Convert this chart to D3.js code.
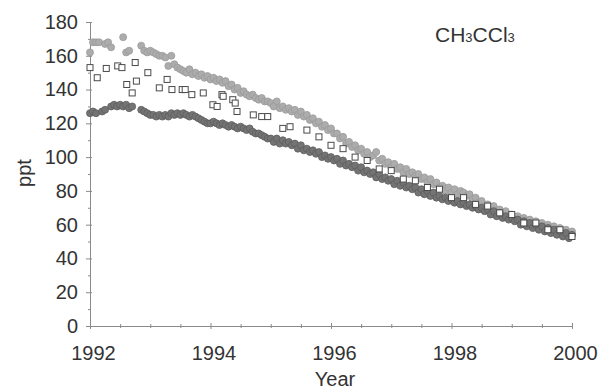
<!DOCTYPE html>
<html>
<head>
<meta charset="utf-8">
<script src="https://cdn.jsdelivr.net/npm/d3@7"></script>
<style>
  body { margin: 0; background: #fff; }
  svg { display: block; font-family: "Liberation Sans", Arial, sans-serif; }
</style>
</head>
<body>
<svg width="610" height="391"></svg>
<script>
// sampling dates shared by the two filled-circle series
var sampleYears = [
  1992.00,1992.05,1992.10,1992.15,1992.20,1992.25,1992.30,1992.35,1992.40,1992.45,1992.50,1992.55,1992.60,1992.65,1992.70,1992.75,1992.80,1992.85,1992.90,1992.95,
  1993.00,1993.05,1993.10,1993.15,1993.20,1993.25,1993.30,1993.35,1993.40,1993.45,1993.50,1993.55,1993.60,1993.65,1993.70,1993.75,1993.80,1993.85,1993.90,1993.95,
  1994.00,1994.05,1994.10,1994.15,1994.20,1994.25,1994.30,1994.35,1994.40,1994.45,1994.50,1994.55,1994.60,1994.65,1994.70,1994.75,1994.80,1994.85,1994.90,1994.95,
  1995.00,1995.05,1995.10,1995.15,1995.20,1995.25,1995.30,1995.35,1995.40,1995.45,1995.50,1995.55,1995.60,1995.65,1995.70,1995.75,1995.80,1995.85,1995.90,1995.95,
  1996.00,1996.05,1996.10,1996.15,1996.20,1996.25,1996.30,1996.35,1996.40,1996.45,1996.50,1996.55,1996.60,1996.65,1996.70,1996.75,1996.80,1996.85,1996.90,1996.95,
  1997.00,1997.05,1997.10,1997.15,1997.20,1997.25,1997.30,1997.35,1997.40,1997.45,1997.50,1997.55,1997.60,1997.65,1997.70,1997.75,1997.80,1997.85,1997.90,1997.95,
  1998.00,1998.05,1998.10,1998.15,1998.20,1998.25,1998.30,1998.35,1998.40,1998.45,1998.50,1998.55,1998.60,1998.65,1998.70,1998.75,1998.80,1998.85,1998.90,1998.95,
  1999.00,1999.05,1999.10,1999.15,1999.20,1999.25,1999.30,1999.35,1999.40,1999.45,1999.50,1999.55,1999.60,1999.65,1999.70,1999.75,1999.80,1999.85,1999.90,1999.95,
  2000.00
];

// light grey circles (ppt), null = no sample
var lightValues = [
  162,168,168,168,null,167,168,165,null,null,null,171,162,163,null,null,null,166,163,162,
  163,162,161,160,160,159,154,160,155,153,152,151,150,152,149,150,148,149,147,148,
  146,147,145,146,144,145,142,143,140,141,138,139,137,136,137,135,134,135,133,133,
  132,130,133,129,130,128,129,127,128,125,127,124,125,122,123,120,121,118,119,116,
  117,114,114,111,112,108,109,106,107,104,105,102,103,100,101,103,98,99,96,97,
  94,96,93,94,91,93,90,91,89,90,87,88,85,87,84,85,82,83,80,82,
  79,81,78,80,79,77,78,75,76,73,74,71,72,70,71,68,69,67,68,65,
  66,64,65,63,64,62,63,61,62,60,61,59,60,58,59,57,58,56,57,55,
  56
];

// dark grey circles (ppt)
var darkValues = [
  126,127,126,null,127,128,null,130,131,130,131,130,131,129,130,null,null,128,127,126,
  125,125,124,125,124,125,124,126,125,126,125,126,125,124,125,124,123,122,121,120,
  120,121,120,119,120,119,118,119,118,117,118,117,116,117,115,114,114,113,112,111,
  111,109,111,108,110,108,109,107,108,105,107,104,105,103,104,102,103,100,101,99,
  100,98,99,96,98,95,96,94,95,92,94,91,92,90,91,88,90,87,88,86,
  87,84,86,83,85,82,83,81,82,79,81,78,80,77,79,76,77,75,76,74,
  75,73,74,72,73,71,72,70,71,69,70,68,69,66,68,65,67,64,65,63,
  64,62,63,60,62,59,61,58,60,57,59,56,58,55,57,54,56,53,55,52,
  54
];

// open squares
var squareYears = [
  1992.00,1992.12,1992.27,1992.46,1992.53,1992.61,1992.70,1992.75,1992.77,1992.96,
  1993.15,1993.28,1993.36,1993.53,1993.58,1993.69,1993.88,1994.04,1994.11,1994.19,
  1994.21,1994.37,1994.41,1994.44,1994.71,1994.85,1994.95,1995.20,1995.32,1995.60,
  1995.80,1996.00,1996.20,1996.40,1996.60,1996.80,1997.00,1997.20,1997.40,1997.60,
  1997.80,1998.00,1998.20,1998.40,1998.60,1998.80,1999.00,1999.20,1999.40,1999.60,
  1999.80,2000.00
];
var squareValues = [
  153,147,152.5,154,153,143,138,156,145,150,
  141,146,140,140,140,137,138,131,130,137,
  136,134,132,127,125,124,124,117,118,116,
  112,107,105,100,98,93,92,87,86,82,
  81,76,76,72,71,67,66,61,61,57,
  57,53
];

var yTicks = [0, 20, 40, 60, 80, 100, 120, 140, 160, 180];
var yMinor = [10, 30, 50, 70, 90, 110, 130, 150, 170];
var xTicks = [1992, 1994, 1996, 1998, 2000];
var xMinor = [1992.5, 1993, 1993.5, 1994.5, 1995, 1995.5, 1996.5, 1997, 1997.5, 1998.5, 1999, 1999.5];

var svg = d3.select("svg");
var textColor = "#333";
var axisColor = "#8a8a8a";

var x = d3.scaleLinear().domain([1992, 2000]).range([90, 572]);
var y = d3.scaleLinear().domain([0, 180]).range([326, 22]);

// y axis
var yAxis = svg.append("g")
    .attr("transform", "translate(" + x(1992) + ",0)")
    .call(d3.axisLeft(y).tickValues(yTicks).tickSize(4).tickSizeOuter(0).tickPadding(8));
yAxis.selectAll(".tick line").attr("x1", -4).attr("x2", 2);
svg.append("g")
    .attr("transform", "translate(" + x(1992) + ",0)")
    .call(d3.axisLeft(y).tickValues(yMinor).tickSize(2).tickSizeOuter(0).tickFormat(""))
    .selectAll(".tick line").attr("x1", -2).attr("x2", 1);

// x axis
var xAxis = svg.append("g")
    .attr("transform", "translate(0," + y(0) + ")")
    .call(d3.axisBottom(x).tickValues(xTicks).tickSize(4).tickSizeOuter(0).tickFormat(d3.format("d")));
xAxis.selectAll(".tick line").attr("y1", -3).attr("y2", 3);
xAxis.selectAll(".tick text").attr("y", 20).attr("dx", 3);
svg.append("g")
    .attr("transform", "translate(0," + y(0) + ")")
    .call(d3.axisBottom(x).tickValues(xMinor).tickSize(2).tickSizeOuter(0).tickFormat(""))
    .selectAll(".tick line").attr("y1", -2).attr("y2", 2);

svg.selectAll(".domain").attr("stroke", axisColor);
svg.selectAll(".tick line").attr("stroke", axisColor);
svg.selectAll(".tick text")
    .attr("fill", textColor)
    .style("font-size", "20px")
    .style("font-family", "'Liberation Sans', Arial, sans-serif");

// markers
function pairs(xs, vs) {
  return xs.map(function(d, i) { return { year: d, value: vs[i] }; })
    .filter(function(d) { return d.value != null; });
}

svg.append("g").selectAll("circle")
    .data(pairs(sampleYears, lightValues))
    .enter().append("circle")
    .attr("cx", function(d) { return x(d.year); })
    .attr("cy", function(d) { return y(d.value); })
    .attr("r", 3.5)
    .attr("fill", "#acacac")
    .attr("stroke", "#9a9a9a")
    .attr("stroke-width", 0.8);

svg.append("g").selectAll("circle")
    .data(pairs(sampleYears, darkValues))
    .enter().append("circle")
    .attr("cx", function(d) { return x(d.year); })
    .attr("cy", function(d) { return y(d.value); })
    .attr("r", 3.5)
    .attr("fill", "#747474")
    .attr("stroke", "#5e5e5e")
    .attr("stroke-width", 0.8);

svg.append("g").selectAll("rect")
    .data(pairs(squareYears, squareValues))
    .enter().append("rect")
    .attr("x", function(d) { return x(d.year) - 3; })
    .attr("y", function(d) { return y(d.value) - 3; })
    .attr("width", 6)
    .attr("height", 6)
    .attr("fill", "#fff")
    .attr("stroke", "#4a4a4a")
    .attr("stroke-width", 1);

// labels
svg.append("text")
    .attr("transform", "translate(31,173) rotate(-90)")
    .attr("text-anchor", "middle")
    .attr("fill", textColor)
    .style("font-size", "20px")
    .text("ppt");

svg.append("text")
    .attr("x", 335)
    .attr("y", 386)
    .attr("text-anchor", "middle")
    .attr("fill", textColor)
    .style("font-size", "20px")
    .text("Year");

var title = svg.append("text")
    .attr("x", 435)
    .attr("y", 42)
    .attr("fill", textColor)
    .style("font-size", "21px");
title.append("tspan").text("CH");
title.append("tspan").style("font-size", "13px").text("3");
title.append("tspan").text("CCl");
title.append("tspan").style("font-size", "13px").text("3");
</script>
</body>
</html>
